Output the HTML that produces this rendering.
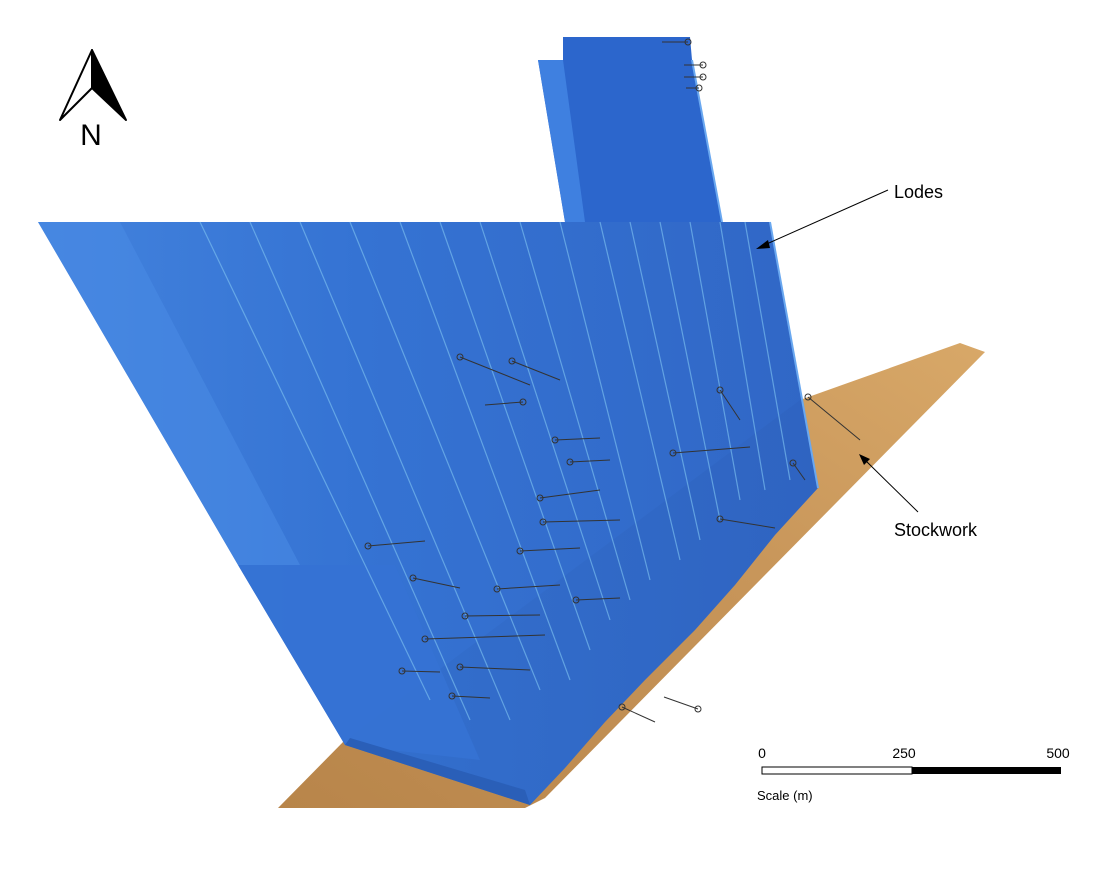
<!DOCTYPE html>
<html><head><style>
html,body{margin:0;padding:0;background:#fff;}
svg{display:block;}
text{font-family:"Liberation Sans",sans-serif;}
</style></head><body>
<svg width="1095" height="874" viewBox="0 0 1095 874" xmlns="http://www.w3.org/2000/svg">
<defs>
<linearGradient id="tan" x1="0" y1="1" x2="1" y2="0">
<stop offset="0" stop-color="#b8854a"/><stop offset="0.6" stop-color="#c8965a"/><stop offset="1" stop-color="#d8a868"/>
</linearGradient>
<linearGradient id="blu" x1="0" y1="0" x2="1" y2="0">
<stop offset="0" stop-color="#3d7fdc"/><stop offset="0.4" stop-color="#2f6fd2"/><stop offset="1" stop-color="#2a62c4"/>
</linearGradient>
</defs>
<polygon points="278,808 345,740 800,400 960,343 985,352 545,798 525,808" fill="url(#tan)"/>
<polygon points="538,60 563,60 563,37 690,37 692,60 722,222 565,222" fill="#2c66cc"/>
<polygon points="538,60 563,60 585,222 565,222" fill="#3f80e0"/>
<line x1="692" y1="60" x2="722" y2="222" stroke="#6aa8f0" stroke-width="2"/>
<polygon points="38,222 770,222 790,330 818,488 775,535 735,585 695,630 645,680 605,722 565,768 530,805 345,745 238,565" fill="url(#blu)" opacity="0.97"/>
<polygon points="38,222 120,222 300,565 238,565" fill="#4a8ae4" opacity="0.6"/>
<polygon points="238,565 395,565 480,760 345,745" fill="#3572d4" opacity="0.9"/>
<polygon points="345,745 530,805 525,790 350,738" fill="#2a5fb8"/>
<g stroke="#7cc0f0" stroke-width="1.2" opacity="0.65" fill="none">
<line x1="200" y1="222" x2="430" y2="700"/>
<line x1="250" y1="222" x2="470" y2="720"/>
<line x1="300" y1="222" x2="510" y2="720"/>
<line x1="350" y1="222" x2="540" y2="690"/>
<line x1="400" y1="222" x2="570" y2="680"/>
<line x1="440" y1="222" x2="590" y2="650"/>
<line x1="480" y1="222" x2="610" y2="620"/>
<line x1="520" y1="222" x2="630" y2="600"/>
<line x1="560" y1="222" x2="650" y2="580"/>
<line x1="600" y1="222" x2="680" y2="560"/>
<line x1="630" y1="222" x2="700" y2="540"/>
<line x1="660" y1="222" x2="720" y2="520"/>
<line x1="690" y1="222" x2="740" y2="500"/>
<line x1="720" y1="222" x2="765" y2="490"/>
<line x1="745" y1="222" x2="790" y2="480"/>
</g>
<line x1="770" y1="222" x2="818" y2="488" stroke="#6aa8f0" stroke-width="2"/>
<g stroke="#333" stroke-width="1" fill="none">
<line x1="460" y1="357" x2="530" y2="385"/><circle cx="460" cy="357" r="3"/>
<line x1="512" y1="361" x2="560" y2="380"/><circle cx="512" cy="361" r="3"/>
<line x1="523" y1="402" x2="485" y2="405"/><circle cx="523" cy="402" r="3"/>
<line x1="555" y1="440" x2="600" y2="438"/><circle cx="555" cy="440" r="3"/>
<line x1="570" y1="462" x2="610" y2="460"/><circle cx="570" cy="462" r="3"/>
<line x1="540" y1="498" x2="600" y2="490"/><circle cx="540" cy="498" r="3"/>
<line x1="543" y1="522" x2="620" y2="520"/><circle cx="543" cy="522" r="3"/>
<line x1="368" y1="546" x2="425" y2="541"/><circle cx="368" cy="546" r="3"/>
<line x1="413" y1="578" x2="460" y2="588"/><circle cx="413" cy="578" r="3"/>
<line x1="497" y1="589" x2="560" y2="585"/><circle cx="497" cy="589" r="3"/>
<line x1="465" y1="616" x2="540" y2="615"/><circle cx="465" cy="616" r="3"/>
<line x1="425" y1="639" x2="545" y2="635"/><circle cx="425" cy="639" r="3"/>
<line x1="402" y1="671" x2="440" y2="672"/><circle cx="402" cy="671" r="3"/>
<line x1="460" y1="667" x2="530" y2="670"/><circle cx="460" cy="667" r="3"/>
<line x1="452" y1="696" x2="490" y2="698"/><circle cx="452" cy="696" r="3"/>
<line x1="520" y1="551" x2="580" y2="548"/><circle cx="520" cy="551" r="3"/>
<line x1="576" y1="600" x2="620" y2="598"/><circle cx="576" cy="600" r="3"/>
<line x1="673" y1="453" x2="750" y2="447"/><circle cx="673" cy="453" r="3"/>
<line x1="720" y1="390" x2="740" y2="420"/><circle cx="720" cy="390" r="3"/>
<line x1="808" y1="397" x2="860" y2="440"/><circle cx="808" cy="397" r="3"/>
<line x1="793" y1="463" x2="805" y2="480"/><circle cx="793" cy="463" r="3"/>
<line x1="720" y1="519" x2="775" y2="528"/><circle cx="720" cy="519" r="3"/>
<line x1="622" y1="707" x2="655" y2="722"/><circle cx="622" cy="707" r="3"/>
<line x1="664" y1="697" x2="698" y2="709"/><circle cx="698" cy="709" r="3"/>
<line x1="662" y1="42" x2="688" y2="42"/><circle cx="688" cy="42" r="3"/>
<line x1="684" y1="65" x2="703" y2="65"/><circle cx="703" cy="65" r="3"/>
<line x1="684" y1="77" x2="703" y2="77"/><circle cx="703" cy="77" r="3"/>
<line x1="686" y1="88" x2="699" y2="88"/><circle cx="699" cy="88" r="3"/>
</g>
<polygon points="92,50 60,120 92,88" fill="#fff" stroke="#000" stroke-width="2" stroke-linejoin="round"/>
<polygon points="92,50 126,120 92,88" fill="#000" stroke="#000" stroke-width="2" stroke-linejoin="round"/>
<text x="91" y="145" font-size="30" text-anchor="middle">N</text>
<text x="894" y="198" font-size="18">Lodes</text>
<line x1="888" y1="190" x2="762" y2="246" stroke="#000" stroke-width="1"/>
<polygon points="756,249 768,240 770,248" fill="#000"/>
<text x="894" y="536" font-size="18">Stockwork</text>
<line x1="918" y1="512" x2="864" y2="459" stroke="#000" stroke-width="1"/>
<polygon points="859,454 870,459 864,465" fill="#000"/>
<text x="762" y="758" font-size="14" text-anchor="middle">0</text>
<text x="904" y="758" font-size="14" text-anchor="middle">250</text>
<text x="1058" y="758" font-size="14" text-anchor="middle">500</text>
<rect x="762" y="767" width="150" height="7" fill="#fff" stroke="#000" stroke-width="1"/>
<rect x="912" y="767" width="149" height="7" fill="#000"/>
<text x="757" y="800" font-size="13">Scale (m)</text>
</svg>
</body></html>
